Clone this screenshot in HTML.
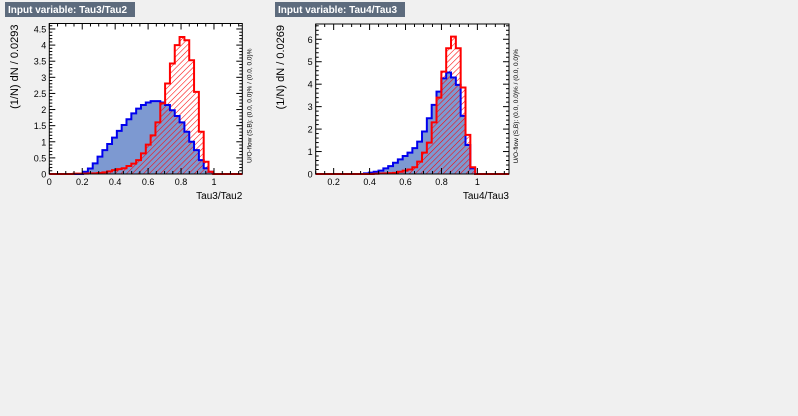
<!DOCTYPE html>
<html><head><meta charset="utf-8">
<style>
body{margin:0;background:#f0f0f0;width:798px;height:416px;overflow:hidden;font-family:"Liberation Sans",sans-serif;}
svg{position:absolute;left:0;top:0}
</style></head>
<body>
<svg id="c" width="798" height="416">
<defs>
<pattern id="hatch" patternUnits="userSpaceOnUse" width="4" height="4" patternTransform="rotate(45)">
<line x1="0" y1="0" x2="0" y2="4" stroke="#ff0000" stroke-width="1.1"/>
</pattern>
</defs>
</svg>
<script>
// Tau3/Tau2 panel data (40 bins, width 0.0293, starting at 0)
const p1Bkg = [0,0,0,0,0,0,0,0.07,0.17,0.33,0.54,0.74,0.93,1.13,1.34,1.52,1.70,1.88,2.03,2.14,2.22,2.26,2.26,2.22,2.14,1.98,1.80,1.60,1.31,1.00,0.74,0.43,0.18,0.07,0,0,0,0,0,0];
const p1Sig = [0,0,0,0,0,0.01,0.01,0.01,0.02,0.02,0.03,0.05,0.08,0.12,0.15,0.18,0.25,0.32,0.43,0.64,0.91,1.20,1.60,2.19,2.81,3.43,4.00,4.25,4.15,3.53,2.55,1.31,0.38,0.07,0,0,0,0,0,0];
const p1XTicks = [0,0.2,0.4,0.6,0.8,1];
const p1XLabels = ["0","0.2","0.4","0.6","0.8","1"];
const p1YTicks = [0,0.5,1,1.5,2,2.5,3,3.5,4,4.5];
const p1YLabels = ["0","0.5","1","1.5","2","2.5","3","3.5","4","4.5"];
// Tau4/Tau3 panel data (40 bins, width 0.0269, starting at 0.1)
const p2Bkg = [0,0,0,0,0,0,0,0,0,0,0.03,0.06,0.10,0.15,0.25,0.35,0.50,0.65,0.80,0.95,1.15,1.44,1.89,2.48,3.08,3.67,4.26,4.52,4.30,3.97,2.59,1.29,0.25,0,0,0,0,0,0,0];
const p2Sig = [0,0,0,0,0,0,0,0,0,0,0,0,0.01,0.02,0.03,0.04,0.05,0.10,0.15,0.20,0.30,0.55,0.95,1.40,2.30,3.40,4.56,5.60,6.12,5.60,3.85,1.74,0.30,0,0,0,0,0,0,0];
const p2XTicks = [0.2,0.4,0.6,0.8,1];
const p2XLabels = ["0.2","0.4","0.6","0.8","1"];
const p2YTicks = [0,1,2,3,4,5,6];
const p2YLabels = ["0","1","2","3","4","5","6"];

const NS="http://www.w3.org/2000/svg";
const svg=document.getElementById('c');
function mk(tag,attrs,parent){const e=document.createElementNS(NS,tag);for(const k in attrs)e.setAttribute(k,attrs[k]);(parent||svg).appendChild(e);return e;}

function panel(cfg){
  const g=mk('g',{});
  
  
  const L=cfg.L,R=cfg.R,T=cfg.T,B=cfg.B;
  const xs=v=>L+(v-cfg.xmin)/(cfg.xmax-cfg.xmin)*(R-L);
  const ys=v=>B-(v/cfg.ymax)*(B-T);
  const tb=mk('rect',{x:cfg.tx,y:2,width:cfg.tw,height:15,fill:'#5d6b7d'},g);
  
  
  const tt=mk('text',{x:cfg.tx+3,y:13,fill:'#fff','font-size':'10','font-weight':'bold'},g);
  tt.textContent=cfg.title;
  
  
  const fr=mk('rect',{x:L,y:T,width:R-L,height:B-T,fill:'#fff'},g);
  
  
  const n=cfg.bkg.length, bw=(cfg.xmax-cfg.xmin)/n;
  function pathFor(arr){
    let d='M'+xs(cfg.xmin)+','+ys(0);
    for(let i=0;i<n;i++){const x0=xs(cfg.xmin+i*bw),x1=xs(cfg.xmin+(i+1)*bw),y=ys(arr[i]);d+=' L'+x0+','+y+' L'+x1+','+y;}
    d+=' L'+xs(cfg.xmax)+','+ys(0);
    return d;
  }
  const bf=mk('path',{d:pathFor(cfg.bkg)+' Z',fill:'#7d99d1',stroke:'none'},g);
  
  
  const sf=mk('path',{d:pathFor(cfg.sig)+' Z',fill:'url(#hatch)',stroke:'none'},g);
  
  
  const bl=mk('path',{d:pathFor(cfg.bkg),fill:'none',stroke:'#0000ee','stroke-width':2},g);
  
  
  const sl=mk('path',{d:pathFor(cfg.sig),fill:'none',stroke:'#ff0000','stroke-width':2},g);
  
  
  const fb=mk('rect',{x:L,y:T,width:R-L,height:B-T,fill:'none',stroke:'#000','stroke-width':1},g);
  
  
  for(let v=Math.ceil(cfg.xmin/0.05)*0.05; v<=cfg.xmax+1e-9; v+=0.05){
    const x=xs(v), major=Math.abs(Math.round(v*5)-v*5)<1e-6, len=major?6:3;
    mk('line',{x1:x,y1:B,x2:x,y2:B-len,stroke:'#000','stroke-width':1},g);
    mk('line',{x1:x,y1:T,x2:x,y2:T+len,stroke:'#000','stroke-width':1},g);
  }
  cfg.xt.forEach((v,i)=>{const t=mk('text',{x:xs(v),y:B+11,'font-size':'9','text-anchor':'middle',fill:'#000'},g);t.textContent=cfg.xl[i];
    
    });
  for(let v=0; v<=cfg.ymax+1e-9; v+=cfg.ymstep){
    const y=ys(v), major=Math.abs(Math.round(v/cfg.ymajor)*cfg.ymajor-v)<1e-6, len=major?6:3;
    mk('line',{x1:L,y1:y,x2:L+len,y2:y,stroke:'#000','stroke-width':1},g);
    mk('line',{x1:R,y1:y,x2:R-len,y2:y,stroke:'#000','stroke-width':1},g);
  }
  cfg.yt.forEach((v,i)=>{const t=mk('text',{x:L-3,y:ys(v)+3.5,'font-size':'9','text-anchor':'end',fill:'#000'},g);t.textContent=cfg.yl[i];
    
    });
  const xtl=mk('text',{x:R,y:199,'font-size':'10','text-anchor':'end',fill:'#000'},g);xtl.textContent=cfg.xtitle;
  
  
  const ytl=mk('text',{x:0,y:0,'font-size':'11','text-anchor':'end',fill:'#000',transform:'translate('+(cfg.ytx)+','+(T+1)+') rotate(-90)'},g);ytl.textContent=cfg.ytitle;
  
  
  const ov=mk('text',{x:0,y:0,'font-size':'6.5','text-anchor':'end',fill:'#000',transform:'translate('+(R+9)+','+(T+25)+') rotate(-90)'},g);ov.textContent='U/O-flow (S,B): (0.0, 0.0)% / (0.0, 0.0)%';
  
  
}
panel({name:'tau3-tau2-panel',L:49.3,R:242.3,T:23.5,B:174,xmin:0,xmax:1.172,ymax:4.67,ymajor:0.5,ymstep:0.1,
  bkg:p1Bkg,sig:p1Sig,xt:p1XTicks,xl:p1XLabels,yt:p1YTicks,yl:p1YLabels,title:'Input variable: Tau3/Tau2',tx:5,tw:130,
  xtitle:'Tau3/Tau2',ytitle:'(1/N) dN / 0.0293',ytx:18});
panel({name:'tau4-tau3-panel',L:315.7,R:509,T:24,B:174,xmin:0.1,xmax:1.176,ymax:6.68,ymajor:1,ymstep:0.2,
  bkg:p2Bkg,sig:p2Sig,xt:p2XTicks,xl:p2XLabels,yt:p2YTicks,yl:p2YLabels,title:'Input variable: Tau4/Tau3',tx:275,tw:130,
  xtitle:'Tau4/Tau3',ytitle:'(1/N) dN / 0.0269',ytx:284});
</script>
</body></html>
